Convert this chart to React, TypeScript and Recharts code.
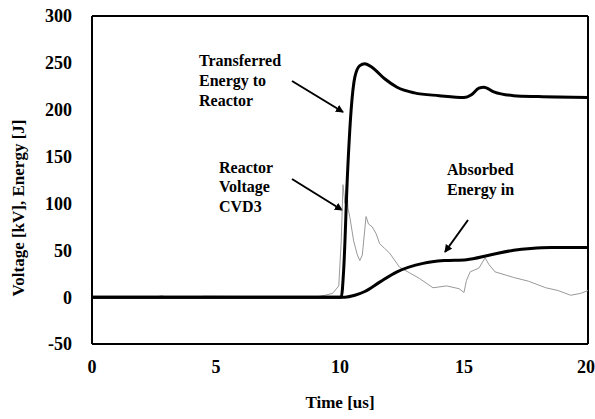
import { ComposedChart, Line, XAxis, YAxis, ReferenceLine } from 'recharts';

// Time [us] / value pairs
const transferredT = [0, 10.05, 10.15, 10.3, 10.45, 10.6, 10.8, 11.0, 11.3, 11.8, 12.3, 13, 14, 15, 15.3, 15.6, 15.8, 16.2, 17, 18, 20];
const transferredE = [0, 0, 30, 130, 200, 235, 247, 249, 245, 233, 224, 218, 215, 213, 216, 223, 224, 219, 215, 214, 213];

const absorbedT = [0, 10.2, 10.6, 11.0, 11.6, 12.3, 13.35, 14.2, 15.1, 16.05, 17.0, 17.7, 18.5, 19.9, 20];
const absorbedE = [0, 0, 2, 6, 16, 27, 36, 39, 40, 45, 50, 52, 53, 53, 53];

const voltageT = [0, 2.6, 2.8, 3.0, 4.4, 4.5, 9.0, 9.4, 9.7, 9.95, 10.05, 10.12, 10.2, 10.27, 10.32, 10.4, 10.55, 10.7, 10.8, 10.9, 11.05, 11.15, 11.3, 11.45, 11.6, 11.8, 12.0, 12.4, 12.8, 13.2, 13.75, 14.3, 14.8, 15.0, 15.1, 15.25, 15.6, 15.85, 16.0, 16.25, 17.0, 17.6, 18.3, 18.8, 19.3, 19.7, 20];
const voltageV = [0, 0, 1.5, 0, 0, 1, 0, 2, 4, 12, 60, 120, 100, 125, 95, 85, 60, 45, 39, 45, 86, 78, 75, 68, 57, 52, 47, 32, 26, 20, 10, 12, 9, 5, 18, 27, 31, 42, 35, 27, 21, 17, 10, 7, 2, 4, 7];

const transferred = transferredT.map((t, i) => ({ t, v: transferredE[i] }));
const absorbed = absorbedT.map((t, i) => ({ t, v: absorbedE[i] }));
const voltage = voltageT.map((t, i) => ({ t, v: voltageV[i] }));

const xTicks = [0, 5, 10, 15, 20];
const yTicks = [-50, 0, 50, 100, 150, 200, 250, 300];

const font = "'Liberation Serif', 'DejaVu Serif', serif";
const labelStyle = { fontFamily: font, fontWeight: 700, fontSize: 16, fill: '#000' };

export default function App() {
    return (
        <div style={{ position: 'absolute', left: 0, top: 0, width: 595, height: 419, background: '#fff', fontFamily: font }}>
            <ComposedChart width={595} height={419} margin={{ top: 16, right: 7, bottom: 0, left: 0 }} style={{ fontFamily: font }}>
                <XAxis
                    type="number"
                    dataKey="t"
                    domain={[0, 20]}
                    ticks={xTicks}
                    allowDuplicatedCategory={false}
                    height={75}
                    stroke="#000"
                    strokeWidth={2}
                    tickLine={false}
                    tickMargin={10}
                    tick={{ fontFamily: font, fontWeight: 700, fontSize: 18, fill: '#000' }}
                    label={{ value: 'Time [us]', position: 'insideBottom', offset: 11, style: { fontFamily: font, fontWeight: 700, fontSize: 17, fill: '#000' } }}
                />
                <YAxis
                    type="number"
                    domain={[-50, 300]}
                    ticks={yTicks}
                    width={92}
                    stroke="#000"
                    strokeWidth={2}
                    tickLine={false}
                    tickMargin={14}
                    tick={{ fontFamily: font, fontWeight: 700, fontSize: 18, fill: '#000' }}
                />
                <ReferenceLine y={300} stroke="#000" strokeWidth={2} />
                <ReferenceLine x={20} stroke="#000" strokeWidth={2} />
                <Line data={voltage} dataKey="v" type="linear" stroke="#999" strokeWidth={1} dot={false} isAnimationActive={false} />
                <Line data={absorbed} dataKey="v" type="monotone" stroke="#000" strokeWidth={3} dot={false} isAnimationActive={false} />
                <Line data={transferred} dataKey="v" type="monotone" stroke="#000" strokeWidth={3} dot={false} isAnimationActive={false} />

                <text x={18} y={208} textAnchor="middle" dominantBaseline="central" transform="rotate(-90, 18, 208)" fontFamily={font} fontWeight={700} fontSize={17} fill="#000">Voltage [kV], Energy [J]</text>

                <text x={199} y={66} fontFamily={font} style={labelStyle}>Transferred</text>
                <text x={199} y={86} fontFamily={font} style={labelStyle}>Energy to</text>
                <text x={199} y={106} fontFamily={font} style={labelStyle}>Reactor</text>
                <text x={219} y={173} fontFamily={font} style={labelStyle}>Reactor</text>
                <text x={219} y={192} fontFamily={font} style={labelStyle}>Voltage</text>
                <text x={219} y={212} fontFamily={font} style={labelStyle}>CVD3</text>
                <text x={447} y={175} fontFamily={font} style={labelStyle}>Absorbed</text>
                <text x={447} y={195} fontFamily={font} style={labelStyle}>Energy in</text>

                <defs>
                    <marker id="arrow" markerWidth="8" markerHeight="8" refX="7" refY="4" orient="auto" markerUnits="userSpaceOnUse">
                        <path d="M0,0 L8,4 L0,8 Z" fill="#000" />
                    </marker>
                </defs>
                <line x1={292} y1={81} x2={343} y2={112} stroke="#000" strokeWidth={2} markerEnd="url(#arrow)" />
                <line x1={292} y1={179} x2={342} y2={210} stroke="#000" strokeWidth={2} markerEnd="url(#arrow)" />
                <line x1={468} y1={220} x2={445} y2={252} stroke="#000" strokeWidth={2} markerEnd="url(#arrow)" />
            </ComposedChart>
        </div>
    );
}
